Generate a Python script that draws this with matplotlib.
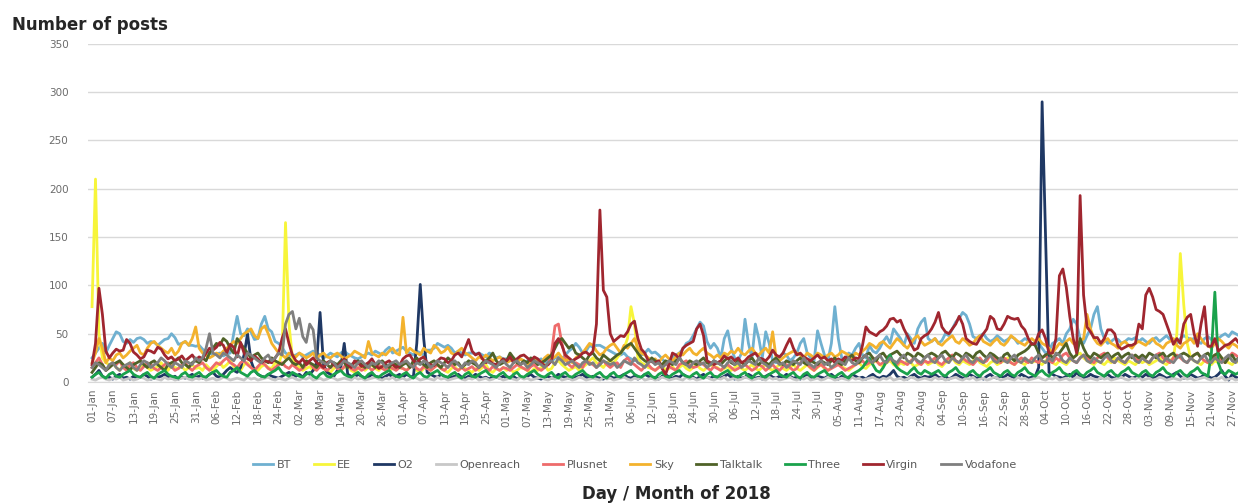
import numpy as np
import pandas as pd
import matplotlib
matplotlib.use("Agg")
import matplotlib.pyplot as plt

# daily posts, 1 Jan - 30 Nov 2018, one line per month
bt = [
    25, 30, 35, 40, 30, 38, 45, 52, 50, 42, 40, 44, 41, 45, 46, 44, 40, 42, 41, 38, 41, 44, 45, 50, 46, 39, 40, 42, 38, 38, 37,
    38, 34, 31, 30, 28, 29, 30, 27, 29, 30, 50, 68, 50, 48, 55, 52, 44, 45, 60, 68, 55, 52, 42, 40, 36, 30, 28, 27,
    28, 30, 26, 28, 30, 32, 30, 28, 25, 27, 30, 28, 26, 30, 32, 29, 27, 25, 24, 26, 28, 30, 28, 32, 30, 28, 33, 36, 30, 32, 34,
    36, 32, 30, 28, 32, 30, 28, 33, 33, 35, 40, 38, 36, 38, 35, 30, 32, 30, 28, 30, 30, 29, 30, 28, 26, 30, 28, 25, 26, 24,
    24, 22, 25, 22, 24, 20, 22, 24, 20, 22, 24, 20, 22, 21, 25, 26, 24, 28, 32, 35, 40, 36, 30, 32, 38, 36, 38, 38, 36, 34, 32,
    30, 28, 28, 30, 26, 24, 22, 24, 28, 30, 34, 30, 31, 28, 24, 20, 22, 26, 28, 30, 34, 40, 42, 48, 55, 62, 58, 42, 35, 40,
    35, 25, 45, 53, 35, 25, 22, 30, 65, 40, 25, 60, 45, 25, 52, 40, 22, 20, 25, 30, 28, 22, 25, 30, 40, 45, 30, 25, 22, 53, 40,
    28, 22, 40, 78, 45, 25, 22, 30, 28, 35, 40, 28, 25, 38, 32, 30, 35, 42, 47, 40, 55, 50, 45, 38, 50, 45, 40, 55, 62, 66, 45,
    42, 45, 40, 43, 50, 48, 55, 62, 66, 72, 69, 60, 47, 45, 48, 50, 45, 42, 44, 48, 45, 42, 44, 47, 45, 40, 42, 45, 43, 40,
    38, 40, 35, 30, 32, 40, 42, 45, 40, 50, 55, 65, 60, 45, 40, 48, 55, 70, 78, 55, 45, 40, 42, 45, 44, 40, 42, 45, 44, 46, 42,
    45, 42, 40, 44, 46, 42, 45, 48, 44, 42, 40, 45, 48, 46, 44, 45, 42, 40, 45, 47, 44, 42, 45, 48, 50, 47, 52, 50, 48, 45,
]
ee = [
    78, 210, 50, 25, 20, 18, 20, 15, 12, 18, 15, 20, 14, 12, 16, 18, 15, 12, 14, 16, 20, 15, 12, 18, 15, 14, 16, 12, 15, 18, 14,
    15, 12, 18, 14, 12, 16, 20, 15, 18, 22, 16, 14, 12, 18, 20, 15, 14, 12, 16, 18, 15, 14, 20, 18, 30, 165, 60, 25,
    18, 15, 12, 14, 16, 12, 15, 18, 14, 12, 10, 14, 16, 12, 15, 18, 12, 10, 14, 16, 12, 15, 18, 14, 12, 16, 15, 12, 14, 18, 15,
    14, 12, 15, 18, 12, 10, 14, 16, 12, 15, 18, 14, 12, 10, 14, 16, 12, 15, 14, 12, 10, 14, 12, 15, 18, 12, 10, 14, 12, 15,
    12, 14, 10, 12, 15, 14, 12, 10, 14, 12, 15, 18, 12, 14, 20, 22, 18, 15, 12, 14, 16, 12, 15, 18, 22, 25, 20, 18, 15, 20, 22,
    20, 25, 30, 35, 45, 78, 60, 25, 20, 18, 15, 14, 12, 15, 18, 12, 14, 16, 12, 15, 18, 14, 12, 15, 18, 14, 12, 15, 18, 16,
    15, 12, 14, 16, 12, 15, 18, 14, 12, 15, 18, 14, 12, 15, 18, 14, 12, 15, 18, 14, 12, 15, 18, 14, 12, 15, 18, 14, 12, 15, 18,
    14, 12, 15, 18, 20, 16, 14, 12, 15, 18, 20, 16, 14, 18, 20, 22, 18, 16, 20, 22, 18, 16, 20, 18, 22, 20, 16, 18, 20, 22, 18,
    20, 22, 18, 16, 20, 22, 25, 20, 18, 22, 20, 18, 22, 25, 20, 18, 16, 20, 22, 18, 20, 22, 25, 20, 18, 22, 20, 18, 22, 20,
    22, 20, 18, 22, 25, 20, 18, 22, 20, 18, 22, 25, 28, 30, 25, 22, 20, 18, 22, 20, 18, 22, 20, 25, 22, 20, 18, 22, 20, 18, 22,
    20, 22, 18, 20, 22, 25, 20, 18, 22, 25, 50, 133, 80, 40, 25, 22, 20, 18, 22, 20, 18, 22, 20, 25, 22, 20, 18, 22, 20, 18,
]
o2 = [
    5, 8, 12, 6, 4, 5, 3, 6, 8, 4, 5, 3, 6, 4, 5, 8, 6, 3, 4, 5, 6, 8, 5, 4, 6, 3, 5, 4, 6, 8, 5,
    6, 4, 5, 8, 10, 6, 5, 8, 12, 15, 12, 10, 15, 28, 50, 22, 12, 8, 6, 5, 8, 6, 5, 4, 6, 8, 10, 8,
    6, 8, 5, 10, 8, 12, 20, 72, 18, 10, 8, 6, 12, 15, 40, 8, 6, 5, 8, 6, 4, 5, 8, 6, 5, 4, 6, 8, 5, 6, 8,
    5, 8, 6, 5, 40, 101, 45, 10, 8, 6, 5, 8, 6, 4, 5, 6, 8, 5, 4, 6, 5, 8, 6, 4, 5, 3, 6, 5, 4, 6,
    4, 5, 6, 3, 5, 4, 6, 8, 5, 4, 3, 5, 6, 4, 5, 8, 6, 5, 4, 3, 5, 6, 8, 5, 4, 6, 5, 4, 3, 5, 6,
    4, 5, 6, 8, 5, 4, 6, 3, 5, 8, 6, 4, 5, 3, 6, 8, 5, 4, 6, 5, 8, 6, 4, 5, 3, 6, 8, 5, 4, 6,
    5, 4, 6, 8, 5, 3, 6, 4, 5, 8, 6, 4, 5, 3, 6, 8, 5, 4, 6, 5, 8, 6, 4, 5, 3, 6, 8, 5, 4, 6, 5,
    4, 6, 8, 5, 3, 6, 4, 5, 8, 6, 4, 5, 3, 6, 8, 5, 4, 6, 5, 8, 12, 6, 4, 5, 3, 6, 8, 5, 4, 6, 5,
    6, 8, 5, 4, 6, 3, 5, 8, 6, 4, 5, 8, 6, 4, 5, 3, 6, 8, 5, 4, 6, 5, 8, 6, 4, 5, 8, 6, 4, 5,
    6, 15, 290, 150, 10, 8, 6, 5, 4, 6, 8, 5, 10, 6, 4, 5, 8, 6, 5, 4, 6, 8, 5, 4, 6, 5, 8, 6, 4, 5, 6,
    5, 8, 6, 4, 5, 8, 6, 4, 5, 8, 10, 6, 4, 5, 8, 6, 4, 5, 8, 6, 4, 5, 8, 12, 6, 2, 8, 5, 4, 6,
]
openreach = [
    3, 2, 4, 5, 3, 2, 4, 3, 5, 2, 3, 4, 2, 3, 5, 4, 2, 3, 4, 3, 2, 5, 3, 4, 2, 3, 4, 5, 3, 2, 4,
    3, 5, 2, 3, 4, 2, 3, 5, 4, 2, 3, 4, 3, 2, 5, 3, 4, 2, 3, 4, 5, 3, 2, 4, 3, 2, 4,
    5, 3, 2, 4, 3, 5, 2, 3, 4, 2, 3, 5, 4, 2, 3, 4, 3, 2, 5, 3, 4, 2, 3, 4, 5, 3, 2, 4, 3, 5, 2,
    3, 4, 2, 3, 5, 4, 2, 3, 4, 3, 2, 5, 3, 4, 2, 3, 4, 5, 3, 2, 4, 3, 5, 2, 3, 4, 2, 3, 5, 4,
    2, 3, 4, 3, 2, 5, 3, 4, 2, 3, 4, 5, 3, 2, 4, 3, 5, 2, 3, 4, 2, 3, 5, 4, 2, 3, 4, 3, 2, 5, 3,
    4, 2, 3, 4, 5, 3, 2, 4, 3, 5, 2, 3, 4, 2, 3, 5, 4, 2, 3, 4, 3, 2, 5, 3, 4, 2, 3, 4, 5, 3,
    2, 4, 3, 5, 2, 3, 4, 2, 3, 5, 4, 2, 3, 4, 3, 2, 5, 3, 4, 2, 3, 4, 5, 3, 2, 4, 3, 5, 2, 3, 4,
    2, 3, 5, 4, 2, 3, 4, 3, 2, 5, 3, 4, 2, 3, 4, 5, 3, 2, 4, 3, 5, 2, 3, 4, 2, 3, 5, 4, 2, 3, 4,
    3, 2, 5, 3, 4, 2, 3, 4, 5, 3, 2, 4, 3, 5, 2, 3, 4, 2, 3, 5, 4, 2, 3, 4, 3, 2, 5, 3, 4, 2,
    3, 4, 5, 3, 2, 4, 3, 5, 2, 3, 4, 2, 3, 5, 4, 2, 3, 4, 3, 2, 5, 3, 4, 2, 3, 4, 5, 3, 2, 4, 3,
    5, 2, 3, 4, 2, 3, 5, 4, 2, 3, 4, 3, 2, 5, 3, 4, 2, 3, 4, 5, 3, 2, 4, 3, 5, 2, 3, 4, 2, 3, 4,
]
plusnet = [
    15, 20, 25, 18, 12, 15, 20, 18, 22, 15, 12, 18, 20, 15, 12, 16, 20, 18, 14, 12, 15, 18, 20, 16, 12, 14, 18, 20, 15, 12, 16,
    18, 20, 15, 12, 16, 20, 18, 22, 25, 20, 18, 15, 20, 22, 18, 15, 12, 16, 20, 18, 14, 12, 15, 18, 20, 16, 14, 18,
    15, 12, 14, 18, 20, 15, 12, 16, 14, 12, 15, 18, 14, 12, 16, 18, 14, 12, 15, 12, 14, 16, 12, 15, 18, 14, 12, 16, 14, 12, 15,
    14, 12, 15, 18, 14, 12, 16, 14, 12, 15, 18, 14, 12, 16, 18, 14, 12, 15, 12, 14, 16, 12, 15, 18, 14, 12, 16, 14, 12, 15,
    14, 12, 15, 18, 16, 14, 12, 16, 18, 14, 12, 15, 18, 30, 58, 60, 40, 25, 18, 15, 20, 18, 15, 22, 20, 18, 15, 20, 22, 18, 15,
    18, 20, 15, 22, 25, 20, 18, 15, 12, 16, 18, 14, 12, 15, 18, 20, 16, 14, 12, 18, 20, 22, 18, 15, 16, 20, 18, 15, 12, 16,
    14, 12, 16, 18, 15, 12, 14, 16, 18, 15, 12, 14, 18, 16, 12, 15, 18, 14, 12, 16, 18, 15, 12, 14, 20, 22, 18, 15, 12, 16, 18,
    15, 12, 14, 16, 18, 15, 12, 14, 16, 18, 20, 22, 18, 20, 25, 22, 18, 20, 22, 25, 20, 18, 22, 20, 18, 22, 25, 20, 18, 22, 20,
    22, 25, 20, 18, 22, 25, 28, 22, 20, 25, 22, 20, 18, 22, 25, 20, 22, 28, 25, 22, 20, 25, 22, 20, 18, 22, 25, 22, 20, 25,
    22, 20, 25, 28, 22, 20, 25, 22, 28, 30, 25, 22, 20, 25, 28, 25, 22, 20, 25, 28, 30, 25, 22, 20, 25, 22, 20, 25, 28, 25, 22,
    25, 22, 20, 25, 28, 30, 25, 22, 20, 25, 28, 25, 22, 20, 25, 28, 30, 25, 22, 20, 25, 28, 25, 22, 20, 25, 30, 28, 25, 22,
]
sky = [
    20, 30, 45, 35, 20, 25, 22, 28, 30, 25, 28, 32, 35, 38, 30, 28, 35, 40, 42, 38, 35, 32, 30, 35, 28, 32, 40, 42, 38, 45, 57,
    35, 30, 28, 25, 27, 30, 28, 32, 35, 38, 42, 40, 45, 50, 52, 55, 48, 45, 55, 58, 50, 40, 35, 30, 28, 25, 30, 28,
    26, 30, 28, 25, 27, 30, 24, 28, 30, 26, 25, 28, 30, 27, 24, 26, 28, 32, 30, 28, 25, 42, 30, 28, 26, 30, 28, 32, 35, 30, 28,
    67, 30, 35, 32, 30, 28, 35, 32, 30, 38, 35, 30, 32, 36, 30, 28, 32, 35, 30, 28, 25, 22, 26, 24, 28, 25, 22, 24, 26, 22,
    20, 22, 25, 20, 24, 22, 18, 20, 24, 22, 20, 25, 28, 24, 26, 30, 25, 22, 24, 20, 25, 28, 30, 35, 40, 38, 32, 28, 30, 35, 38,
    40, 35, 30, 38, 35, 40, 45, 35, 30, 28, 25, 22, 24, 20, 25, 28, 24, 22, 26, 30, 28, 32, 35, 30, 28, 32, 35, 30, 28, 25,
    28, 25, 30, 28, 32, 30, 35, 30, 28, 32, 35, 30, 28, 32, 35, 30, 52, 25, 22, 25, 28, 30, 32, 30, 28, 25, 30, 28, 25, 30, 28,
    25, 28, 30, 26, 28, 32, 30, 28, 25, 30, 28, 32, 35, 40, 38, 35, 40, 42, 38, 35, 40, 45, 42, 38, 35, 40, 45, 48, 42, 38, 40,
    42, 45, 40, 38, 42, 45, 48, 42, 40, 45, 42, 38, 40, 45, 48, 42, 40, 38, 42, 45, 40, 38, 42, 48, 45, 42, 40, 38, 42, 45,
    42, 45, 40, 38, 35, 30, 35, 40, 38, 42, 45, 40, 38, 42, 45, 70, 55, 45, 40, 38, 42, 45, 40, 38, 35, 40, 42, 38, 35, 40, 42,
    40, 38, 42, 45, 40, 38, 35, 40, 42, 45, 38, 35, 40, 42, 45, 40, 50, 45, 40, 38, 35, 40, 45, 42, 38, 35, 40, 38, 35, 32,
]
talktalk = [
    10, 15, 20, 18, 12, 15, 18, 20, 22, 18, 15, 12, 18, 20, 22, 18, 15, 20, 22, 18, 15, 12, 18, 20, 22, 25, 20, 18, 15, 20, 22,
    20, 25, 22, 30, 35, 40, 38, 45, 42, 35, 30, 45, 40, 35, 30, 25, 28, 30, 25, 22, 20, 25, 22, 20, 18, 22, 25, 20,
    18, 20, 15, 22, 20, 18, 15, 20, 22, 18, 15, 20, 18, 22, 20, 15, 18, 20, 22, 18, 15, 20, 18, 15, 20, 22, 18, 15, 20, 18, 15,
    18, 20, 15, 22, 25, 20, 18, 15, 20, 22, 18, 15, 20, 25, 22, 18, 20, 15, 18, 22, 20, 18, 15, 20, 22, 25, 30, 22, 18, 20,
    22, 30, 25, 20, 18, 22, 20, 25, 22, 18, 20, 22, 25, 28, 35, 42, 45, 40, 35, 38, 30, 28, 25, 22, 28, 30, 25, 22, 28, 25, 22,
    25, 28, 30, 35, 38, 40, 35, 30, 25, 22, 20, 25, 22, 20, 18, 22, 20, 18, 22, 25, 20, 18, 22, 20, 18, 22, 25, 20, 18, 22,
    20, 18, 22, 25, 20, 18, 22, 20, 18, 22, 25, 20, 18, 22, 20, 18, 22, 25, 20, 18, 22, 20, 18, 22, 25, 20, 18, 22, 20, 18, 22,
    20, 18, 22, 25, 20, 18, 22, 25, 28, 22, 20, 25, 28, 30, 25, 22, 28, 30, 25, 28, 30, 32, 28, 25, 30, 28, 25, 30, 28, 25, 28,
    30, 28, 25, 30, 32, 28, 25, 30, 28, 25, 30, 28, 25, 30, 32, 28, 25, 30, 28, 25, 22, 28, 30, 25, 22, 28, 30, 32, 35, 40,
    38, 30, 25, 28, 30, 25, 28, 30, 35, 40, 30, 25, 28, 45, 35, 28, 25, 30, 28, 25, 28, 30, 25, 28, 30, 25, 28, 30, 25, 28, 25,
    28, 25, 30, 28, 25, 28, 30, 25, 28, 30, 25, 28, 30, 28, 25, 28, 30, 25, 28, 30, 25, 28, 30, 25, 20, 25, 28, 22, 25, 28,
]
three = [
    5, 8, 10, 6, 4, 8, 10, 6, 5, 8, 10, 12, 8, 6, 5, 8, 10, 6, 4, 8, 10, 12, 8, 6, 5, 4, 8, 10, 6, 5, 8,
    10, 6, 5, 8, 10, 12, 8, 6, 5, 10, 12, 15, 10, 8, 6, 10, 12, 8, 6, 5, 8, 10, 12, 15, 10, 8, 6, 10,
    8, 6, 5, 8, 10, 6, 4, 8, 10, 6, 5, 8, 10, 12, 8, 6, 5, 8, 10, 6, 4, 8, 10, 6, 5, 8, 10, 12, 8, 6, 5,
    8, 10, 6, 4, 8, 10, 6, 5, 8, 10, 12, 8, 6, 5, 8, 10, 6, 4, 8, 10, 6, 5, 8, 10, 12, 8, 6, 5, 8, 10,
    6, 4, 8, 10, 6, 5, 8, 10, 12, 8, 6, 5, 8, 10, 6, 4, 8, 10, 6, 5, 8, 10, 12, 8, 6, 5, 8, 10, 6, 4, 8,
    10, 6, 5, 8, 10, 12, 8, 6, 5, 8, 10, 6, 4, 8, 10, 6, 5, 8, 10, 12, 8, 6, 5, 8, 10, 6, 4, 8, 10, 6,
    5, 8, 10, 12, 8, 6, 5, 8, 10, 6, 4, 8, 10, 6, 5, 8, 10, 12, 8, 6, 5, 8, 10, 6, 4, 8, 10, 6, 5, 8, 10,
    12, 8, 6, 5, 8, 10, 6, 4, 8, 10, 12, 15, 20, 25, 18, 12, 10, 15, 22, 28, 20, 15, 12, 10, 8, 12, 15, 10, 8, 12, 10,
    8, 10, 12, 8, 6, 10, 12, 15, 10, 8, 6, 10, 12, 8, 6, 10, 12, 15, 10, 8, 6, 10, 12, 8, 6, 10, 12, 15, 10, 8,
    6, 10, 12, 8, 6, 10, 12, 15, 10, 8, 6, 10, 12, 8, 6, 10, 12, 15, 10, 8, 6, 10, 12, 8, 6, 10, 12, 15, 10, 8, 6,
    10, 12, 8, 6, 10, 12, 15, 10, 8, 6, 10, 12, 8, 6, 10, 12, 15, 10, 8, 6, 30, 93, 20, 10, 8, 12, 10, 8, 10, 12,
]
virgin = [
    18, 40, 97, 70, 32, 25, 30, 34, 32, 33, 44, 40, 31, 28, 24, 26, 33, 32, 30, 36, 34, 28, 24, 26, 22, 24, 27, 22, 25, 28, 23,
    26, 24, 30, 35, 33, 36, 41, 38, 30, 39, 36, 26, 41, 30, 24, 22, 27, 24, 20, 22, 21, 20, 25, 30, 45, 55, 40, 28,
    22, 20, 24, 18, 22, 25, 20, 18, 15, 20, 22, 18, 16, 20, 24, 18, 15, 22, 20, 16, 18, 20, 24, 18, 14, 16, 20, 22, 18, 15, 17,
    24, 27, 28, 22, 20, 24, 26, 20, 18, 17, 22, 25, 24, 20, 22, 28, 30, 26, 35, 44, 32, 28, 30, 24, 20, 22, 19, 18, 20, 24,
    22, 26, 20, 24, 27, 28, 25, 22, 26, 24, 20, 17, 18, 22, 40, 45, 38, 28, 25, 22, 24, 26, 30, 31, 28, 32, 60, 178, 95, 88, 50,
    42, 45, 48, 47, 52, 60, 63, 45, 34, 30, 22, 21, 20, 22, 14, 8, 18, 30, 28, 24, 35, 38, 40, 42, 55, 60, 48, 22, 20, 18,
    20, 22, 27, 24, 26, 22, 25, 20, 22, 26, 28, 30, 25, 24, 22, 26, 33, 28, 26, 30, 38, 45, 35, 28, 30, 26, 24, 22, 25, 28, 24,
    26, 22, 24, 20, 24, 22, 26, 24, 22, 25, 24, 38, 57, 52, 50, 48, 52, 54, 58, 65, 66, 62, 64, 55, 48, 40, 33, 35, 45, 48, 50,
    55, 62, 72, 57, 52, 50, 55, 60, 68, 60, 45, 42, 40, 39, 45, 50, 55, 68, 65, 55, 54, 60, 68, 66, 65, 66, 58, 54, 45, 39,
    40, 50, 54, 45, 30, 30, 45, 110, 117, 98, 68, 45, 30, 193, 90, 57, 52, 46, 46, 40, 45, 54, 54, 50, 37, 34, 36, 38, 38, 40, 60,
    55, 90, 97, 88, 75, 73, 70, 60, 50, 39, 45, 40, 60, 67, 70, 50, 37, 60, 78, 37, 37, 45, 32, 35, 38, 39, 42, 45, 40, 38,
]
vodafone = [
    15, 20, 18, 15, 12, 18, 20, 15, 12, 16, 18, 20, 15, 12, 18, 22, 20, 15, 18, 20, 25, 22, 18, 15, 20, 18, 15, 22, 20, 18, 25,
    22, 25, 35, 50, 30, 28, 25, 30, 28, 25, 22, 28, 25, 22, 30, 28, 25, 22, 20, 25, 28, 22, 25, 30, 28, 60, 70, 73,
    55, 66, 47, 41, 60, 54, 25, 22, 20, 18, 22, 20, 15, 18, 22, 20, 18, 15, 20, 22, 18, 15, 20, 18, 22, 20, 15, 18, 20, 22, 18,
    20, 22, 18, 15, 20, 18, 22, 20, 15, 18, 22, 20, 18, 15, 20, 22, 18, 15, 20, 18, 22, 20, 15, 18, 22, 20, 18, 15, 20, 22,
    18, 15, 20, 22, 18, 20, 15, 18, 22, 20, 18, 15, 20, 22, 18, 25, 22, 18, 20, 22, 18, 15, 20, 22, 18, 20, 15, 18, 22, 20, 18,
    20, 15, 18, 22, 20, 18, 25, 20, 18, 15, 20, 22, 18, 20, 15, 18, 22, 20, 18, 25, 20, 18, 15, 20, 22, 18, 20, 15, 18, 22,
    20, 18, 15, 20, 22, 18, 20, 15, 18, 22, 20, 18, 25, 20, 18, 15, 20, 22, 18, 20, 15, 18, 22, 20, 18, 25, 20, 18, 15, 20, 22,
    18, 20, 15, 18, 22, 20, 18, 25, 20, 18, 22, 25, 28, 22, 20, 25, 28, 22, 20, 25, 22, 20, 25, 28, 22, 20, 25, 22, 20, 25, 28,
    22, 20, 25, 28, 22, 20, 25, 22, 20, 25, 28, 22, 20, 25, 22, 20, 25, 28, 22, 20, 25, 22, 20, 25, 28, 22, 20, 25, 22, 20,
    25, 28, 22, 20, 25, 22, 30, 28, 22, 20, 25, 22, 20, 25, 28, 22, 20, 25, 22, 20, 25, 28, 22, 20, 25, 22, 20, 25, 28, 22, 20,
    25, 22, 20, 25, 28, 22, 20, 25, 22, 20, 25, 28, 22, 20, 25, 22, 20, 25, 28, 22, 20, 25, 22, 20, 25, 28, 22, 20, 25, 22,
]

names = ["BT", "EE", "O2", "Openreach", "Plusnet", "Sky", "Talktalk", "Three", "Virgin", "Vodafone"]
series = [bt, ee, o2, openreach, plusnet, sky, talktalk, three, virgin, vodafone]
colors = ["#6fb0d0", "#f7f53a", "#1f3864", "#c8c8c8", "#ee6b6b",
          "#f3b22d", "#4f6228", "#1aa24c", "#a0262f", "#7f7f7f"]

lens = [len(s) for s in series]
assert all(n == 334 for n in lens), str(lens)

dates = pd.date_range("2018-01-01", periods=334, freq="D")
x = np.arange(len(dates))

fig = plt.figure(figsize=(12.38, 5.04), dpi=100)
ax = fig.add_axes([0.071, 0.242, 0.929, 0.671])

for name, vals, c in zip(names, series, colors):
    ax.plot(x, vals, color=c, lw=2.0, label=name, solid_joinstyle="round")

ax.set_ylim(0, 350)
ax.set_yticks(np.arange(0, 351, 50))
ax.set_xlim(-1.2, 331.7)
ticks = x[::6]
ax.set_xticks(ticks)
ax.set_xticklabels([d.strftime("%d-%b") for d in dates[::6]], rotation=90)

ax.grid(axis="y", color="#d9d9d9", lw=1)
ax.set_axisbelow(True)
for s in ["top", "right", "left"]:
    ax.spines[s].set_visible(False)
ax.spines["bottom"].set_color("#d9d9d9")
ax.tick_params(axis="both", length=0, colors="#6b6b6b", labelsize=7.5)
ax.tick_params(axis="y", pad=14)
ax.tick_params(axis="x", pad=5)

fig.text(0.01, 0.95, "Number of posts", fontsize=12, fontweight="bold", color="#262626", va="center")
fig.text(0.546, 0.02, "Day / Month of 2018", fontsize=12, fontweight="bold", color="#262626", ha="center", va="center")

leg = fig.legend(loc="center", bbox_to_anchor=(0.513, 0.077), ncol=10, frameon=False,
                 fontsize=8, handlelength=1.8, handletextpad=0.3, columnspacing=2.05)
for t in leg.get_texts():
    t.set_color("#595959")

fig.savefig("out.png", dpi=100)
